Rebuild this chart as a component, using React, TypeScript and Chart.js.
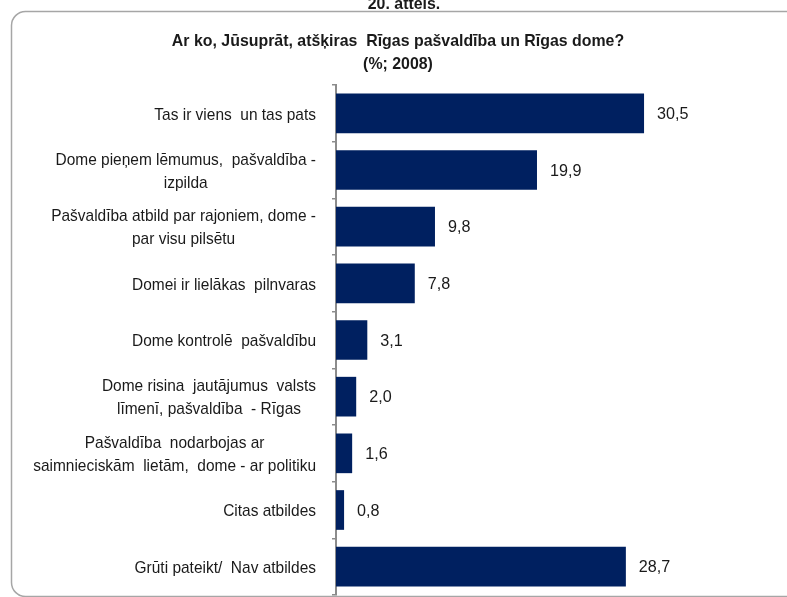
import React, { useEffect, useRef } from "react";
import { Chart, registerables } from "chart.js";

Chart.register(...registerables);

const categories: string[][] = [
  ["Tas ir viens  un tas pats"],
  ["Dome pieņem lēmumus,  pašvaldība -", "izpilda"],
  ["Pašvaldība atbild par rajoniem, dome -", "par visu pilsētu"],
  ["Domei ir lielākas  pilnvaras"],
  ["Dome kontrolē  pašvaldību"],
  ["Dome risina  jautājumus  valsts", "līmenī, pašvaldība  - Rīgas"],
  ["Pašvaldība  nodarbojas ar", "saimnieciskām  lietām,  dome - ar politiku"],
  ["Citas atbildes"],
  ["Grūti pateikt/  Nav atbildes"],
];
const values: number[] = [30.5, 19.9, 9.8, 7.8, 3.1, 2.0, 1.6, 0.8, 28.7];
const valueLabels: string[] = values.map((v) => v.toFixed(1).replace(".", ","));
const titleLines: string[] = [
  "Ar ko, Jūsuprāt, atšķiras  Rīgas pašvaldība un Rīgas dome?",
  "(%; 2008)",
];
const caption = "20. attēls.";

const BAR_COLOR = "#002060";
const TEXT_COLOR = "#1a1a1a";
const LABEL_FONT = '17px "Liberation Sans", Arial, sans-serif';
const TITLE_FONT = 'bold 17px "Liberation Sans", Arial, sans-serif';
const LABEL_SX = 0.91;
const TITLE_SX = 0.935;

function drawScaled(
  ctx: CanvasRenderingContext2D,
  text: string,
  x: number,
  y: number,
  align: CanvasTextAlign,
  sx: number
) {
  ctx.save();
  ctx.translate(x, y);
  ctx.scale(sx, 1);
  ctx.textAlign = align;
  ctx.fillText(text, 0, 0);
  ctx.restore();
}

const decorPlugin = {
  id: "decor",
  beforeDraw(chart: any) {
    const ctx = chart.ctx as CanvasRenderingContext2D;
    ctx.save();
    ctx.fillStyle = "#ffffff";
    ctx.fillRect(0, 0, chart.width, chart.height);
    ctx.strokeStyle = "#a6a6a6";
    ctx.lineWidth = 1.5;
    const x = 11.5, y = 11.5, w = 800, h = 585, r = 14;
    ctx.beginPath();
    ctx.moveTo(x + r, y);
    ctx.lineTo(x + w - r, y);
    ctx.arcTo(x + w, y, x + w, y + r, r);
    ctx.lineTo(x + w, y + h - r);
    ctx.arcTo(x + w, y + h, x + w - r, y + h, r);
    ctx.lineTo(x + r, y + h);
    ctx.arcTo(x, y + h, x, y + h - r, r);
    ctx.lineTo(x, y + r);
    ctx.arcTo(x, y, x + r, y, r);
    ctx.closePath();
    ctx.stroke();
    ctx.fillStyle = TEXT_COLOR;
    ctx.font = 'bold 17px "Liberation Sans", Arial, sans-serif';
    ctx.textBaseline = "alphabetic";
    drawScaled(ctx, caption, 404, 9, "center", TITLE_SX);
    ctx.font = TITLE_FONT;
    ctx.textBaseline = "middle";
    drawScaled(ctx, titleLines[0], 398, 41.5, "center", TITLE_SX);
    drawScaled(ctx, titleLines[1], 398, 64, "center", TITLE_SX);
    ctx.restore();
  },
  afterDraw(chart: any) {
    const ctx = chart.ctx as CanvasRenderingContext2D;
    const yScale = chart.scales.y;
    const xScale = chart.scales.x;
    ctx.save();
    ctx.fillStyle = TEXT_COLOR;
    ctx.font = LABEL_FONT;
    ctx.textBaseline = "middle";
    const rightX = 316;
    const lh = 23;
    categories.forEach((lines, i) => {
      const yc = yScale.getPixelForValue(i);
      const blockW = Math.max(...lines.map((l) => ctx.measureText(l).width)) * LABEL_SX;
      const cx = rightX - blockW / 2;
      lines.forEach((l, j) => {
        drawScaled(ctx, l, cx, yc + 1.5 + (j - (lines.length - 1) / 2) * lh, "center", LABEL_SX);
      });
    });
    values.forEach((v, i) => {
      const yc = yScale.getPixelForValue(i);
      const xe = xScale.getPixelForValue(v);
      drawScaled(ctx, valueLabels[i], xe + 13, yc + 1, "left", 0.95);
    });
    ctx.restore();
  },
};

export default function App() {
  const ref = useRef<HTMLCanvasElement | null>(null);
  useEffect(() => {
    if (!ref.current) return;
    const chart = new Chart(ref.current, {
      type: "bar",
      data: {
        labels: categories.map((c) => c.join(" ")),
        datasets: [
          {
            data: values,
            backgroundColor: BAR_COLOR,
            borderWidth: 0,
            barPercentage: 0.7,
            categoryPercentage: 1,
          },
        ],
      },
      options: {
        indexAxis: "y",
        responsive: false,
        animation: false,
        devicePixelRatio: 1,
        layout: { padding: { top: 85, bottom: 2, left: 332, right: 47 } },
        scales: {
          x: { display: false, min: 0, max: 40 },
          y: {
            ticks: { display: false },
            grid: {
              drawOnChartArea: false,
              drawTicks: true,
              tickLength: 4,
              color: "#8c8c8c",
              lineWidth: 1.5,
            },
            border: { display: true, color: "#8c8c8c", width: 2 },
          },
        },
        plugins: {
          legend: { display: false },
          tooltip: { enabled: false },
          title: { display: false },
        },
      },
      plugins: [decorPlugin],
    });
    return () => chart.destroy();
  }, []);
  return (
    <canvas
      ref={ref}
      width={787}
      height={597}
      style={{ position: "absolute", left: 0, top: 0, width: 787, height: 597 }}
    />
  );
}
